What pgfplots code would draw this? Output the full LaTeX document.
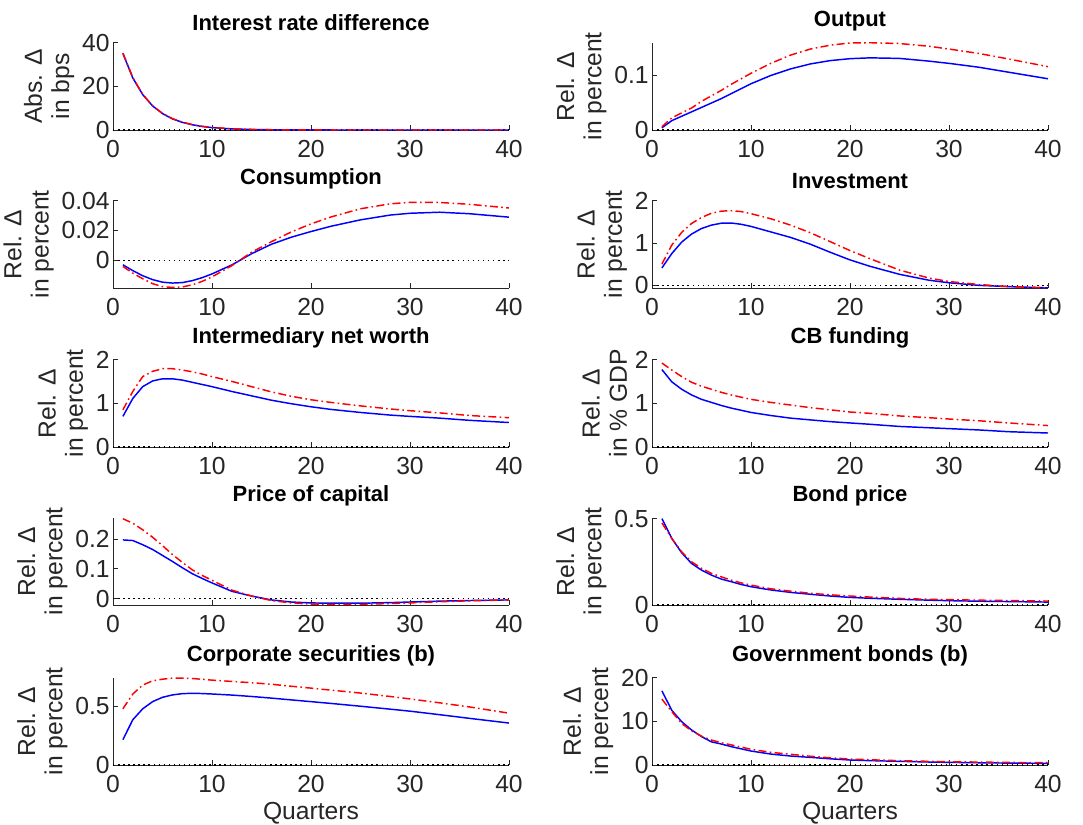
\documentclass[border=0pt]{standalone}
\usepackage{fontspec}
\setmainfont{Liberation Sans}
\usepackage{pgfplots}
\usepackage{pgfplotstable}
\pgfplotsset{compat=1.18}
\definecolor{axgray}{rgb}{0.15,0.15,0.15}

\pgfplotstableread{
x b r
1 35.0 35.2
2 23.8 24.0
3 16.2 16.3
4 11.0 11.1
5 7.5 7.6
6 5.1 5.2
7 3.5 3.6
8 2.4 2.5
9 1.6 1.7
10 1.1 1.2
12 0.5 0.55
14 0.23 0.26
16 0.11 0.12
18 0.05 0.06
20 0.02 0.03
22 0.01 0.01
25 0 0
28 0 0
30 0 0
33 0 0
36 0 0
40 0 0
}\tIR

\pgfplotstableread{
x b r
1 0.004 0.006
2 0.017 0.022
3 0.025 0.031
4 0.033 0.040
5 0.041 0.052
6 0.049 0.062
7 0.057 0.072
8 0.066 0.083
9 0.075 0.093
10 0.084 0.103
12 0.099 0.121
14 0.111 0.136
16 0.120 0.147
18 0.126 0.154
20 0.1295 0.158
22 0.131 0.1585
25 0.130 0.157
28 0.125 0.152
30 0.121 0.147
33 0.114 0.139
36 0.105 0.129
40 0.093 0.115
}\tOut

\pgfplotstableread{
x b r
1 -0.0029 -0.0040
2 -0.0068 -0.0085
3 -0.0102 -0.0122
4 -0.0128 -0.0155
5 -0.0145 -0.0175
6 -0.0151 -0.0180
7 -0.0148 -0.0177
8 -0.0135 -0.0163
9 -0.0115 -0.0140
10 -0.0090 -0.0110
12 -0.0030 -0.0035
14 0.0045 0.0055
16 0.0108 0.0125
18 0.0155 0.0190
20 0.0193 0.0244
22 0.0228 0.0290
25 0.0271 0.0345
28 0.0303 0.0378
30 0.0315 0.0388
33 0.0322 0.0387
36 0.0312 0.0375
40 0.0289 0.0350
}\tCons

\pgfplotstableread{
x b r
1 0.41 0.50
2 0.75 0.95
3 1.02 1.25
4 1.21 1.46
5 1.34 1.60
6 1.42 1.70
7 1.465 1.75
8 1.47 1.76
9 1.44 1.74
10 1.39 1.69
12 1.26 1.57
14 1.13 1.42
16 0.97 1.24
18 0.78 1.03
20 0.60 0.82
22 0.45 0.63
25 0.26 0.36
28 0.12 0.17
30 0.06 0.09
33 0.00 0.02
36 -0.03 -0.03
40 -0.06 -0.06
}\tInv

\pgfplotstableread{
x b r
1 0.70 0.85
2 1.11 1.27
3 1.38 1.61
4 1.51 1.73
5 1.56 1.79
6 1.56 1.79
7 1.53 1.76
8 1.48 1.72
9 1.43 1.67
10 1.38 1.61
12 1.27 1.50
14 1.17 1.38
16 1.07 1.26
18 0.99 1.16
20 0.92 1.08
22 0.86 1.02
25 0.79 0.94
28 0.73 0.87
30 0.70 0.83
33 0.66 0.78
36 0.61 0.72
40 0.56 0.67
}\tNW

\pgfplotstableread{
x b r
1 1.77 1.92
2 1.49 1.76
3 1.32 1.61
4 1.19 1.48
5 1.09 1.39
6 1.02 1.32
7 0.95 1.25
8 0.89 1.19
9 0.84 1.14
10 0.79 1.09
12 0.72 1.02
14 0.66 0.96
16 0.62 0.90
18 0.58 0.85
20 0.55 0.80
22 0.52 0.77
25 0.47 0.71
28 0.44 0.67
30 0.42 0.64
33 0.39 0.60
36 0.35 0.55
40 0.32 0.49
}\tCB

\pgfplotstableread{
x b r
1 0.197 0.268
2 0.195 0.253
3 0.181 0.231
4 0.165 0.206
5 0.145 0.178
6 0.125 0.148
7 0.104 0.122
8 0.084 0.097
9 0.068 0.078
10 0.053 0.062
12 0.025 0.029
14 0.009 0.009
16 -0.004 -0.006
18 -0.011 -0.014
20 -0.014 -0.018
22 -0.015 -0.019
25 -0.015 -0.019
28 -0.013 -0.016
30 -0.011 -0.014
33 -0.008 -0.010
36 -0.006 -0.007
40 -0.004 -0.004
}\tPK

\pgfplotstableread{
x b r
1 0.500 0.475
2 0.385 0.385
3 0.302 0.308
4 0.240 0.250
5 0.202 0.212
6 0.173 0.183
7 0.150 0.163
8 0.135 0.144
9 0.119 0.128
10 0.106 0.115
12 0.087 0.094
14 0.073 0.080
16 0.062 0.068
18 0.052 0.059
20 0.044 0.052
22 0.039 0.046
25 0.033 0.038
28 0.028 0.033
30 0.025 0.031
33 0.022 0.028
36 0.020 0.026
40 0.017 0.023
}\tBP

\pgfplotstableread{
x b r
1 0.216 0.478
2 0.385 0.604
3 0.478 0.680
4 0.539 0.716
5 0.576 0.730
6 0.596 0.739
7 0.607 0.739
8 0.610 0.736
9 0.608 0.729
10 0.604 0.722
12 0.595 0.711
14 0.583 0.700
16 0.569 0.687
18 0.554 0.670
20 0.539 0.654
22 0.524 0.637
25 0.500 0.612
28 0.475 0.583
30 0.458 0.562
33 0.428 0.529
36 0.397 0.494
40 0.357 0.441
}\tCS

\pgfplotstableread{
x b r
1 16.96 15.06
2 12.5 12.2
3 9.9 9.5
4 8.0 7.8
5 6.5 6.6
6 5.3 5.7
7 4.8 5.1
8 4.2 4.6
9 3.7 4.1
10 3.2 3.6
12 2.5 2.9
14 2.05 2.45
16 1.75 2.0
18 1.42 1.65
20 1.14 1.37
22 1.0 1.2
25 0.84 0.99
28 0.68 0.84
30 0.60 0.76
33 0.51 0.67
36 0.44 0.59
40 0.38 0.53
}\tGB

\pgfplotsset{
  irf/.style={
    scale only axis, width=297pt, height=65.6pt,
    xmin=0, xmax=40, xtick={0,10,20,30,40},
    axis x line*=bottom, axis y line*=left,
    axis line style={axgray, line width=0.6pt, -},
    every outer x axis line/.append style={-},
    every outer y axis line/.append style={-},
    tick style={axgray, line width=0.6pt}, major tick length=3.5pt,
    tick align=inside, minor tick num=0,
    scaled y ticks=false,
    /pgf/number format/assume math mode=true,
    ticklabel style={font=\fontsize{18.5}{21}\selectfont, text=axgray},
    xticklabel style={yshift=-4.5pt},
    yticklabel style={xshift=1pt},
    title style={font=\bfseries\fontsize{16.5}{19}\selectfont, text=black, yshift=-1pt},
    ylabel style={font=\fontsize{18.5}{20.5}\selectfont, text=axgray, align=center, yshift=-1pt},
    xlabel style={font=\fontsize{18.5}{21}\selectfont, text=axgray, yshift=0pt},
    clip=true,
  },
  zl/.style={black, line width=0.9pt, dash pattern=on 1.1pt off 2.7pt},
  bl/.style={blue, line width=1.1pt},
  rl/.style={red, line width=1.1pt, dash pattern=on 6pt off 2.5pt on 1.2pt off 2.5pt},
}

\begin{document}
\begin{tikzpicture}
\path[use as bounding box] (0,0) rectangle (812.25pt,-618.75pt);

% Row 1
\begin{axis}[irf, at={(84.75pt,-97.5pt)}, anchor=south west,
  title={Interest rate difference}, ylabel={Abs. Δ\\in bps},
  ymin=0, ymax=40, ytick={0,20,40}, yticklabels={0,20,40}]
\addplot[zl] coordinates {(0,0) (40,0)};
\addplot[bl] table[x=x,y=b] {\tIR};
\addplot[rl] table[x=x,y=r] {\tIR};
\end{axis}
\begin{axis}[irf, at={(489pt,-97.5pt)}, anchor=south west,
  title={Output}, ylabel={Rel. Δ\\in percent},
  ymin=0, ymax=0.1588, ytick={0,0.1}, yticklabels={0,0.1}]
\addplot[zl] coordinates {(0,0) (40,0)};
\addplot[bl] table[x=x,y=b] {\tOut};
\addplot[rl] table[x=x,y=r] {\tOut};
\end{axis}

% Row 2
\begin{axis}[irf, at={(84.75pt,-216pt)}, anchor=south west,
  title={Consumption}, ylabel={Rel. Δ\\in percent},
  ymin=-0.0184, ymax=0.04, ytick={0,0.02,0.04}, yticklabels={0,0.02,0.04}]
\addplot[zl] coordinates {(0,0) (40,0)};
\addplot[bl] table[x=x,y=b] {\tCons};
\addplot[rl] table[x=x,y=r] {\tCons};
\end{axis}
\begin{axis}[irf, at={(489pt,-216pt)}, anchor=south west,
  title={Investment}, ylabel={Rel. Δ\\in percent},
  ymin=-0.063, ymax=2, ytick={0,1,2}, yticklabels={0,1,2}]
\addplot[zl] coordinates {(0,0) (40,0)};
\addplot[bl] table[x=x,y=b] {\tInv};
\addplot[rl] table[x=x,y=r] {\tInv};
\end{axis}

% Row 3
\begin{axis}[irf, at={(84.75pt,-335.25pt)}, anchor=south west,
  title={Intermediary net worth}, ylabel={Rel. Δ\\in percent},
  ymin=0, ymax=2, ytick={0,1,2}, yticklabels={0,1,2}]
\addplot[zl] coordinates {(0,0) (40,0)};
\addplot[bl] table[x=x,y=b] {\tNW};
\addplot[rl] table[x=x,y=r] {\tNW};
\end{axis}
\begin{axis}[irf, at={(489pt,-335.25pt)}, anchor=south west,
  title={CB funding}, ylabel={Rel. Δ\\in \% GDP},
  ymin=0, ymax=2, ytick={0,1,2}, yticklabels={0,1,2}]
\addplot[zl] coordinates {(0,0) (40,0)};
\addplot[bl] table[x=x,y=b] {\tCB};
\addplot[rl] table[x=x,y=r] {\tCB};
\end{axis}

% Row 4
\begin{axis}[irf, at={(84.75pt,-453.75pt)}, anchor=south west,
  title={Price of capital}, ylabel={Rel. Δ\\in percent},
  ymin=-0.021, ymax=0.272, ytick={0,0.1,0.2}, yticklabels={0,0.1,0.2}]
\addplot[zl] coordinates {(0,0) (40,0)};
\addplot[bl] table[x=x,y=b] {\tPK};
\addplot[rl] table[x=x,y=r] {\tPK};
\end{axis}
\begin{axis}[irf, at={(489pt,-453.75pt)}, anchor=south west,
  title={Bond price}, ylabel={Rel. Δ\\in percent},
  ymin=0, ymax=0.506, ytick={0,0.5}, yticklabels={0,0.5}]
\addplot[zl] coordinates {(0,0) (40,0)};
\addplot[bl] table[x=x,y=b] {\tBP};
\addplot[rl] table[x=x,y=r] {\tBP};
\end{axis}

% Row 5
\begin{axis}[irf, at={(84.75pt,-573.75pt)}, anchor=south west,
  title={Corporate securities (b)}, ylabel={Rel. Δ\\in percent}, xlabel={Quarters},
  ymin=0, ymax=0.744, ytick={0,0.5}, yticklabels={0,0.5}]
\addplot[zl] coordinates {(0,0) (40,0)};
\addplot[bl] table[x=x,y=b] {\tCS};
\addplot[rl] table[x=x,y=r] {\tCS};
\end{axis}
\begin{axis}[irf, at={(489pt,-573.75pt)}, anchor=south west,
  title={Government bonds (b)}, ylabel={Rel. Δ\\in percent}, xlabel={Quarters},
  ymin=0, ymax=20, ytick={0,10,20}, yticklabels={0,10,20}]
\addplot[zl] coordinates {(0,0) (40,0)};
\addplot[bl] table[x=x,y=b] {\tGB};
\addplot[rl] table[x=x,y=r] {\tGB};
\end{axis}
\end{tikzpicture}
\end{document}
